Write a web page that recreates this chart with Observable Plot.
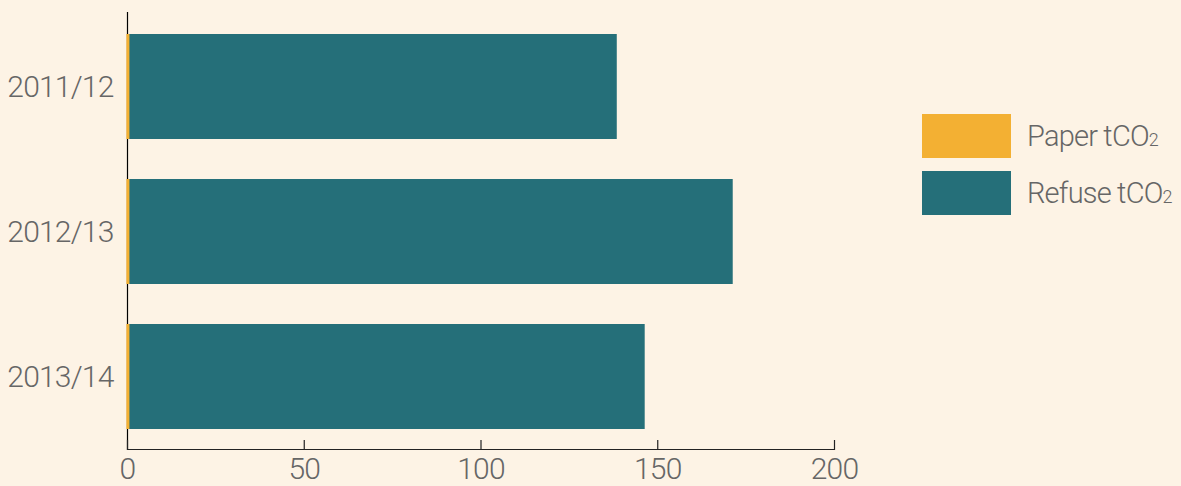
<!DOCTYPE html>
<html>
<head>
<meta charset="utf-8">
<script src="https://cdn.jsdelivr.net/npm/d3@7"></script>
<script src="https://cdn.jsdelivr.net/npm/@observablehq/plot@0.6"></script>
<style>
  html, body { margin: 0; padding: 0; background: #fdf3e5; }
  #wrap { position: relative; width: 1181px; height: 486px; overflow: hidden; font-family: Roboto, sans-serif; font-weight: 300; }
  #chart { position: absolute; left: 0; top: 0; }
  .legend { position: absolute; left: 922px; top: 114px; }
  .item { display: flex; align-items: center; height: 44px; margin-bottom: 13px; white-space: nowrap; }
  .swatch { width: 89px; height: 44px; margin-right: 16px; flex: none; }
  .label { font-size: 29px; color: #666; letter-spacing: -0.8px; }
  .label sub { font-size: 0.62em; vertical-align: -0.02em; letter-spacing: 0; }
</style>
</head>
<body>
<div id="wrap">
  <div id="chart"></div>
  <div class="legend" id="legend"></div>
</div>
<script>
const years = ["2011/12", "2012/13", "2013/14"];
const paper = [0.85, 0.85, 0.85];
const refuse = [137.7, 170.5, 145.6];
const seriesNames = ["Paper tCO", "Refuse tCO"];
const seriesColors = ["#f3b033", "#256f79"];
const xTicks = [0, 50, 100, 150, 200];

const rows = [];
years.forEach((y, i) => {
  rows.push({year: y, series: seriesNames[0], value: paper[i]});
  rows.push({year: y, series: seriesNames[1], value: refuse[i]});
});

const W = 880, H = 486, mt = 12, mb = 36, ml = 127, mr = 46;
const frameH = H - mt - mb;
const font = 'Roboto, sans-serif';

const chart = Plot.plot({
  width: W, height: H,
  marginTop: mt, marginBottom: mb, marginLeft: ml, marginRight: mr,
  style: {background: "transparent", fontFamily: font, fontWeight: 300, overflow: "visible", letterSpacing: "-0.8px"},
  x: {domain: [0, 200], ticks: xTicks},
  y: {domain: years, paddingInner: 0.276, paddingOuter: 0.14},
  color: {domain: seriesNames, range: seriesColors},
  marks: [
    Plot.ruleX([0], {stroke: "#000", strokeWidth: 1.2}),
    Plot.barX(rows, Plot.stackX({y: "year", x: "value", fill: "series", order: seriesNames, insetLeft: -0.6})),
    Plot.rect([0], {x1: 0, x2: 200, insetTop: frameH - 1, fill: "#222"}),
    Plot.tickX(xTicks, {x: d => d, insetTop: frameH - 10, stroke: "#222", strokeWidth: 1.2}),
    Plot.axisX({ticks: xTicks, tickSize: 0, tickPadding: 7, fontSize: 30, fill: "#666", label: null}),
    Plot.axisY({tickSize: 0, tickPadding: 14, fontSize: 30, fill: "#666", label: null})
  ]
});
document.getElementById("chart").appendChild(chart);

const legend = document.getElementById("legend");
seriesNames.forEach((s, i) => {
  const item = document.createElement("div");
  item.className = "item";
  item.innerHTML = `<div class="swatch" style="background:${seriesColors[i]}"></div><div class="label">${s}<sub>2</sub></div>`;
  legend.appendChild(item);
});
</script>
</body>
</html>
